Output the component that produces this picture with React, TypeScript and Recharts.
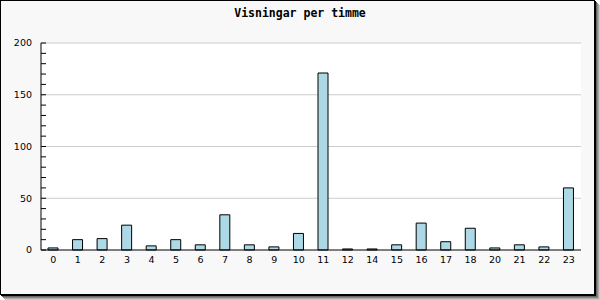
import React from 'react';
import { BarChart, Bar, XAxis, YAxis, CartesianGrid } from 'recharts';

const hours = ['0', '1', '2', '3', '4', '5', '6', '7', '8', '9', '10', '11', '12', '14', '15', '16', '17', '18', '20', '21', '22', '23'];
const views = [2, 10, 11, 24, 4, 10, 5, 34, 5, 3, 16, 171, 1, 1, 5, 26, 8, 21, 2, 5, 3, 60];
const yTicks = [0, 10, 20, 30, 40, 50, 60, 70, 80, 90, 100, 110, 120, 130, 140, 150, 160, 170, 180, 190, 200];
const yLabelTicks = [0, 50, 100, 150, 200];
const gridValues = [50, 100, 150, 200];
const title = 'Visningar per timme';

const data = hours.map((h, i) => ({ hour: h, views: views[i] }));
const edgeTicks = hours.map((_, i) => i + 1);

const tickFont = { fontFamily: 'DejaVu Sans', fontSize: 9.5, fill: '#000' };

export default function App() {
  return (
    <div style={{ position: 'relative', width: 600, height: 300 }}>
      <style>{'body{margin:0}'}</style>
      <div
        style={{
          position: 'absolute',
          left: 0,
          top: 0,
          width: 593,
          height: 293,
          border: '1px solid #000',
          background: '#f8f8f8',
          boxShadow: '1px 1px 0 #000, 2px 2px 0 #666, 3px 3px 0 #888, 4px 4px 0 #aaa, 5px 5px 0 #ccc',
        }}
      />
      <div
        style={{
          position: 'absolute',
          left: 0,
          top: 6,
          width: 600,
          textAlign: 'center',
          fontFamily: 'DejaVu Sans Mono',
          fontWeight: 'bold',
          fontSize: 11.5,
          lineHeight: '14px',
          color: '#000',
        }}
      >
        {title}
      </div>
      <BarChart
        width={600}
        height={300}
        data={data}
        margin={{ top: 43, right: 19, left: 0, bottom: 20 }}
        style={{ position: 'absolute', left: 0, top: 0 }}
      >
        <CartesianGrid
          fill="#fff"
          stroke="#ccc"
          vertical={false}
          horizontalValues={gridValues}
        />
        <XAxis
          xAxisId="edges"
          type="number"
          dataKey="views"
          domain={[0, hours.length]}
          allowDataOverflow
          ticks={edgeTicks}
          interval={0}
          height={0}
          axisLine={false}
          tick={false}
          tickSize={-5}
          stroke="#000"
          tickLine={{ stroke: '#000' }}
        />
        <XAxis
          xAxisId="cat"
          dataKey="hour"
          interval={0}
          height={30}
          stroke="#000"
          axisLine={{ stroke: '#000' }}
          tickLine={false}
          tickSize={0}
          tickMargin={6}
          tick={tickFont}
        />
        <YAxis
          width={41}
          domain={[0, 200]}
          ticks={yTicks}
          interval={0}
          stroke="#000"
          axisLine={{ stroke: '#000' }}
          tickLine={{ stroke: '#000' }}
          tickSize={-5}
          tickMargin={14}
          tick={tickFont}
          tickFormatter={(v: number) => (yLabelTicks.includes(v) ? String(v) : '')}
        />
        <Bar
          xAxisId="cat"
          dataKey="views"
          fill="#add8e6"
          stroke="#000"
          strokeWidth={1}
          barSize={10}
          isAnimationActive={false}
        />
      </BarChart>
    </div>
  );
}
